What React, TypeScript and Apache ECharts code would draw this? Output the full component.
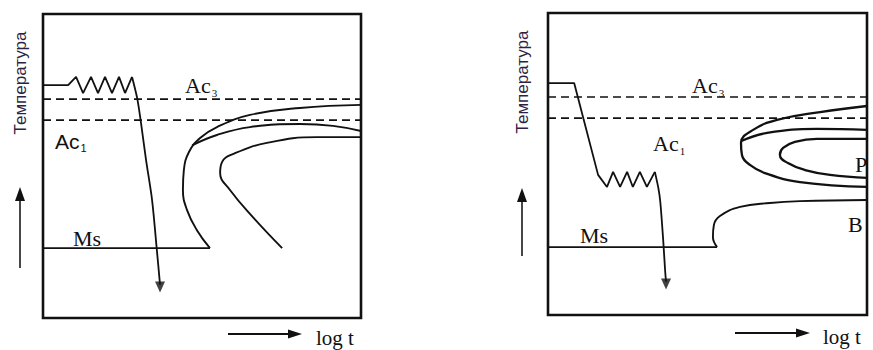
import React, { useEffect, useRef } from "react";
import * as echarts from "echarts";

// Axis ranges (arbitrary schematic units: log t and temperature)
const axisRange = [0, 100];

// ---------- Left diagram ----------
const leftAc3 = 72.0;
const leftAc1 = 65.1;
const leftHeat = [[0, 76.6], [7.9, 76.6], [10.4, 79.3], [12.6, 74.0], [15.1, 79.3], [17.3, 74.0], [19.5, 79.3], [21.7, 74.0], [23.9, 79.3], [25.8, 74.0], [28.0, 79.3]];
const leftCool = [[28.0, 79.3], [29.6, 72.4], [30.7, 65.1], [32.4, 52], [34.3, 38.8], [35.8, 22.4], [36.8, 11.0]];
const leftArrowTip = [[36.8, 10.2]];
const leftMs = [[0, 23.0], [52.5, 23.0]];
const leftOuter = [[52.5, 23.0], [48.4, 28.9], [45.3, 35.5], [44.0, 42.1], [44.3, 48.7], [45.9, 54.6], [49.4, 59.2], [54.7, 62.8], [65.1, 66.8], [80.8, 69.1], [100, 70.1]];
const leftMid = [[46.9, 56.8], [54.7, 60.2], [65.1, 62.8], [80.8, 63.8], [91.2, 63.2], [100, 61.5]];
const leftInner = [[75.2, 23.0], [66.0, 33.2], [58.8, 42.1], [55.7, 47.7], [56.3, 51.3], [59.7, 53.9], [70.4, 57.6], [86.2, 59.5], [100, 59.5]];

// ---------- Right diagram ----------
const rightAc3 = 72.2;
const rightAc1 = 65.2;
const rightHeat = [[0, 76.8], [8.2, 76.8], [15.7, 46.4], [18.5, 42.4], [20.4, 47.4], [22.6, 42.4], [24.8, 47.4], [26.6, 42.4], [28.8, 47.4], [31.0, 42.4], [33.5, 47.4]];
const rightCool = [[33.5, 47.4], [34.6, 42], [35.2, 37.5], [36.1, 25], [36.7, 15], [37.0, 11.0]];
const rightArrowTip = [[37.0, 10.3]];
const rightMs = [[0, 22.5], [53.0, 22.5]];
const rightBainite = [[53.0, 22.5], [51.7, 25.8], [52.0, 29.8], [53.9, 32.8], [60.2, 35.8], [69.6, 37.1], [79.0, 37.7], [100, 38.1]];
const rightOuter = [[100, 69.2], [85.3, 67.2], [71.8, 64.6], [64.3, 61.3], [60.5, 57.0], [60.8, 53.0], [63.3, 49.7], [68.0, 47.0], [79.0, 44.0], [100, 42.4]];
const rightMid = [[60.6, 57.6], [68.7, 60.3], [84.3, 61.6], [100, 61.3]];
const rightInner = [[100, 58.3], [84.3, 58.3], [77.4, 57.3], [73.7, 55.3], [72.7, 53.0], [75.2, 50.3], [80.6, 48.0], [88.4, 46.4], [100, 45.4]];

const yLabel = "Температура";
const xLabel = "log t";

const SERIF = "Liberation Serif, Times New Roman, serif";
const SANS = "Liberation Sans, Arial, sans-serif";

function lineSeries(grid: number, data: number[][], width: number, smooth: number | boolean = false, dashed = false) {
  return {
    type: "line",
    xAxisIndex: grid,
    yAxisIndex: grid,
    data,
    smooth,
    showSymbol: false,
    symbol: "none",
    silent: true,
    lineStyle: { color: "#111", width, type: dashed ? [8, 5] : "solid" },
  };
}

function arrowHead(grid: number, data: number[][]) {
  return {
    type: "scatter",
    xAxisIndex: grid,
    yAxisIndex: grid,
    data,
    symbol: "triangle",
    symbolRotate: 180,
    symbolSize: [10, 11],
    itemStyle: { color: "#111" },
    silent: true,
  };
}

function acText(x: number, y: number, main: string, sub: string, font: string, size: number) {
  return {
    type: "text",
    x,
    y,
    style: {
      text: `{a|${main}}{b|${sub}}`,
      rich: {
        a: { fontFamily: font, fontSize: size, fill: "#111", verticalAlign: "bottom" },
        b: { fontFamily: font, fontSize: 11, fill: "#111", verticalAlign: "bottom", padding: [0, 0, -2, 1] },
      },
      textAlign: "left",
      textVerticalAlign: "middle",
    },
  };
}

function plainText(x: number, y: number, text: string, font: string, size: number, align = "left") {
  return {
    type: "text",
    x,
    y,
    style: { text, fontFamily: font, fontSize: size, fill: "#111", textAlign: align, textVerticalAlign: "middle" },
  };
}

function hArrow(x1: number, x2: number, y: number) {
  return [
    { type: "line", shape: { x1, y1: y, x2: x2 - 8, y2: y }, style: { stroke: "#111", lineWidth: 2 } },
    { type: "polygon", shape: { points: [[x2, y], [x2 - 14, y - 4.5], [x2 - 14, y + 4.5]] }, style: { fill: "#111" } },
  ];
}

function vArrow(x: number, y1: number, y2: number) {
  return [
    { type: "line", shape: { x1: x, y1, x2: x, y2: y2 + 8 }, style: { stroke: "#333", lineWidth: 1.8 } },
    { type: "polygon", shape: { points: [[x, y2], [x - 5, y2 + 14], [x + 5, y2 + 14]] }, style: { fill: "#111" } },
  ];
}

function vText(x: number, y: number) {
  return {
    type: "text",
    x,
    y,
    rotation: Math.PI / 2,
    style: { text: yLabel, fontFamily: SANS, fontSize: 17, fill: "#2e1f45", textAlign: "center", textVerticalAlign: "middle" },
  };
}

export default function App() {
  const ref = useRef<HTMLDivElement>(null);
  useEffect(() => {
    if (!ref.current) return;
    const chart = echarts.init(ref.current, undefined, { renderer: "svg" });
    const axisBase = { type: "value", min: axisRange[0], max: axisRange[1], show: false };
    const option = {
      animation: false,
      backgroundColor: "#fff",
      grid: [
        { left: 43, top: 14, width: 318, height: 304, show: true, borderColor: "#111", borderWidth: 2.6, backgroundColor: "transparent" },
        { left: 548, top: 13, width: 319, height: 302, show: true, borderColor: "#111", borderWidth: 2.6, backgroundColor: "transparent" },
      ],
      xAxis: [
        { ...axisBase, gridIndex: 0 },
        { ...axisBase, gridIndex: 1 },
      ],
      yAxis: [
        { ...axisBase, gridIndex: 0 },
        { ...axisBase, gridIndex: 1 },
      ],
      series: [
        lineSeries(0, [[0, leftAc3], [100, leftAc3]], 1.6, false, true),
        lineSeries(0, [[0, leftAc1], [100, leftAc1]], 1.6, false, true),
        lineSeries(0, leftHeat, 1.8),
        lineSeries(0, leftCool, 1.8, 0.3),
        arrowHead(0, leftArrowTip),
        lineSeries(0, leftMs, 1.8),
        lineSeries(0, leftOuter, 1.9, 0.45),
        lineSeries(0, leftMid, 1.9, 0.45),
        lineSeries(0, leftInner, 1.9, 0.45),

        lineSeries(1, [[0, rightAc3], [100, rightAc3]], 1.6, false, true),
        lineSeries(1, [[0, rightAc1], [100, rightAc1]], 1.6, false, true),
        lineSeries(1, rightHeat, 1.8),
        lineSeries(1, rightCool, 1.8, 0.3),
        arrowHead(1, rightArrowTip),
        lineSeries(1, rightMs, 1.8),
        lineSeries(1, rightBainite, 1.9, 0.45),
        lineSeries(1, rightOuter, 2.3, 0.45),
        lineSeries(1, rightMid, 2.3, 0.45),
        lineSeries(1, rightInner, 2.3, 0.45),
      ],
      graphic: [
        vText(20, 83),
        ...vArrow(20, 268, 187),
        vText(522, 82),
        ...vArrow(522, 256, 188),
        ...hArrow(228, 302, 334),
        plainText(316, 338, xLabel, SERIF, 21),
        ...hArrow(735, 810, 333),
        plainText(823, 337, xLabel, SERIF, 21),

        acText(185, 85, "Ac", "3", SERIF, 22),
        acText(55, 141, "Ac", "1", SANS, 21),
        plainText(73, 238, "Ms", SERIF, 22),

        acText(692, 85, "Ac", "3", SERIF, 22),
        acText(653, 143, "Ac", "1", SERIF, 22),
        plainText(580, 235, "Ms", SERIF, 22),
        plainText(855, 164, "P", SERIF, 22),
        plainText(848, 224, "B", SERIF, 22),
      ],
    };
    chart.setOption(option as any);
    return () => chart.dispose();
  }, []);
  return <div ref={ref} style={{ position: "fixed", left: 0, top: 0, width: 873, height: 350 }} />;
}
